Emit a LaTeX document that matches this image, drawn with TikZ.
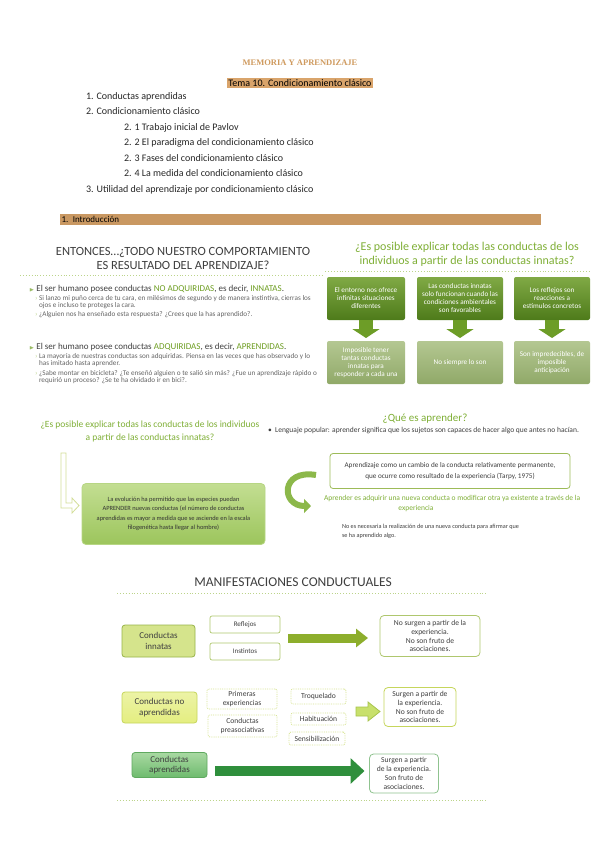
\documentclass[tikz,border=0pt]{standalone}
\usepackage{fontspec}
\usepackage{amssymb}
\setmainfont{Carlito}
\newfontfamily\memfont{Liberation Serif}
\usetikzlibrary{calc,arrows.meta,positioning}

\definecolor{tanTitle}{HTML}{CF9A5E}
\definecolor{tanFill}{HTML}{D9A46B}
\definecolor{tanBar}{HTML}{C99862}
\definecolor{slideGray}{HTML}{3F3F3F}
\definecolor{leafGreen}{HTML}{6E9E22}
\definecolor{titleGreen}{HTML}{7FAF36}
\definecolor{dotGreen}{HTML}{BCD48A}
\definecolor{boxDarkA}{HTML}{80A945}
\definecolor{boxDarkB}{HTML}{4E7B1A}
\definecolor{boxPaleA}{HTML}{B4C792}
\definecolor{boxPaleB}{HTML}{90A968}
\definecolor{arrowGreen}{HTML}{6D9D27}
\definecolor{evoA}{HTML}{C3DE92}
\definecolor{evoB}{HTML}{9CC55C}
\definecolor{evoLine}{HTML}{B7D684}
\definecolor{bentLine}{HTML}{D3DE98}
\definecolor{curveGreen}{HTML}{8CB84A}
\definecolor{defLine}{HTML}{9DBB58}
\definecolor{innFill}{HTML}{D5E48C}
\definecolor{innLine}{HTML}{98B44A}
\definecolor{smallLine}{HTML}{AFC76E}
\definecolor{rowOneArrow}{HTML}{8DAE2C}
\definecolor{napFill}{HTML}{E4EE80}
\definecolor{napLine}{HTML}{C6D65C}
\definecolor{dashLine}{HTML}{D6E38E}
\definecolor{hollowFill}{HTML}{C8E06C}
\definecolor{hollowLine}{HTML}{A7C44C}
\definecolor{aprA}{HTML}{A9D9A2}
\definecolor{aprB}{HTML}{6EBB6E}
\definecolor{aprLine}{HTML}{5FA95F}
\definecolor{rowThreeArrow}{HTML}{2F8F3C}

\tikzset{
  every node/.style={inner sep=0pt, outer sep=0pt},
  toc/.style={anchor=base west, font=\fontsize{10}{11}\selectfont, text=black!85},
  slidetitle/.style={anchor=base, font=\fontsize{12.5}{14}\selectfont, text=slideGray},
  greentitle/.style={anchor=base, align=center, font=\fontsize{12}{14}\selectfont, text=titleGreen},
  bulletline/.style={anchor=base west, font=\fontsize{9}{10}\selectfont, text=slideGray},
  subline/.style={anchor=north west, align=left, font=\fontsize{7.2}{7.8}\selectfont, text=slideGray!80},
  dotline/.style={dotGreen, dotted, line width=0.9pt},
  darkbox/.style={rounded corners=2pt, top color=boxDarkA, bottom color=boxDarkB, text=white,
    align=center, font=\fontsize{7.2}{8}\selectfont, minimum height=43pt},
  palebox/.style={rounded corners=2pt, top color=boxPaleA, bottom color=boxPaleB, text=white,
    align=center, font=\fontsize{7.2}{8}\selectfont, minimum height=43pt},
  downarrow/.style={arrowGreen, line width=14pt, -{Triangle[length=9pt,width=27pt]}, shorten >=3pt},
  evobox/.style={rounded corners=4pt, top color=evoA, bottom color=evoB, draw=evoLine, line width=0.8pt,
    align=center, font=\fontsize{6.4}{9.4}\selectfont, text=black!80},
  defbox/.style={draw=defLine, line width=0.8pt, rounded corners=3pt, fill=white, align=center,
    font=\fontsize{7.2}{11.5}\selectfont, text=slideGray},
  smalltext/.style={anchor=north west, align=left, font=\fontsize{6.2}{8.8}\selectfont, text=slideGray},
  mainbox/.style={rounded corners=3pt, line width=0.8pt, align=center, font=\fontsize{9}{10.5}\selectfont,
    text=slideGray},
  itembox/.style={rounded corners=2pt, draw=smallLine, line width=0.7pt, fill=white, align=center,
    font=\fontsize{7}{8}\selectfont, text=slideGray},
  dashbox/.style={rounded corners=2pt, draw=dashLine, densely dotted, line width=0.8pt, fill=white,
    align=center, font=\fontsize{7.6}{8.4}\selectfont, text=slideGray},
  resultbox/.style={rounded corners=4pt, line width=0.8pt, fill=white, align=center,
    font=\fontsize{7.6}{8.8}\selectfont, text=slideGray}
}

\begin{document}
\begin{tikzpicture}[x=1pt,y=-1pt]
  \useasboundingbox (0,0) rectangle (599,848);
  \fill[white] (0,0) rectangle (599,848);

  % cabecera
  \node[anchor=base, font=\memfont\bfseries\fontsize{8.5}{9}\selectfont, text=tanTitle] (mem) at (300,65.5) {MEMORIA Y APRENDIZAJE};
  \node[anchor=base, fill=tanFill, inner xsep=1.5pt, inner ysep=1.6pt, font=\fontsize{10}{11}\selectfont] (tema) at (300,86.5) {Tema 10. Condicionamiento clásico};

  \node[toc] (toc1) at (86,100) {1. Conductas aprendidas};
  \node[toc] (toc2) at (86,115) {2. Condicionamiento clásico};
  \node[toc] (toc21) at (124,131) {2. 1 Trabajo inicial de Pavlov};
  \node[toc] (toc22) at (124,146) {2. 2 El paradigma del condicionamiento clásico};
  \node[toc] (toc23) at (124,161) {2. 3 Fases del condicionamiento clásico};
  \node[toc] (toc24) at (124,176) {2. 4 La medida del condicionamiento clásico};
  \node[toc] (toc3) at (86,192) {3. Utilidad del aprendizaje por condicionamiento clásico};

  \node[anchor=north west, fill=tanBar, minimum width=481pt, minimum height=11pt, text width=478pt,
    inner xsep=1.5pt, align=left, font=\fontsize{9}{10}\selectfont] (intro) at (60,214) {1. Introducción};

  % diapositiva izquierda
  \node[slidetitle] (entA) at (183,255) {ENTONCES…¿TODO NUESTRO COMPORTAMIENTO};
  \node[slidetitle] (entB) at (183,269.5) {ES RESULTADO DEL APRENDIZAJE?};
  \draw[dotline] (20,275) -- (322,275);

  \node[bulletline] (nadq) at (29,291) {{\color{leafGreen!70}\fontsize{5}{5}\selectfont$\blacktriangleright$}\ El ser humano posee conductas
    \textcolor{leafGreen}{NO ADQUIRIDAS}, es decir, \textcolor{leafGreen}{INNATAS}.};
  \node[subline] (nadqA) at (35,295) {{\color{dotGreen}›}\ Si lanzo mi puño cerca de tu cara, en milésimos de segundo y de manera instintiva, cierras los\\
    \phantom{›}\ ojos e incluso te proteges la cara.};
  \node[subline] (nadqB) at (35,311) {{\color{dotGreen}›}\ ¿Alguien nos ha enseñado esta respuesta? ¿Crees que la has aprendido?.};

  \node[bulletline] (adq) at (29,349) {{\color{leafGreen!70}\fontsize{5}{5}\selectfont$\blacktriangleright$}\ El ser humano posee conductas
    \textcolor{leafGreen}{ADQUIRIDAS}, es decir, \textcolor{leafGreen}{APRENDIDAS}.};
  \node[subline] (adqA) at (35,353) {{\color{dotGreen}›}\ La mayoría de nuestras conductas son adquiridas. Piensa en las veces que has observado y lo\\
    \phantom{›}\ has imitado hasta aprender.};
  \node[subline] (adqB) at (35,370) {{\color{dotGreen}›}\ ¿Sabe montar en bicicleta? ¿Te enseñó alguien o te salió sin más? ¿Fue un aprendizaje rápido o\\
    \phantom{›}\ requirió un proceso? ¿Se te ha olvidado ir en bici?.};

  % diapositiva derecha
  \node[greentitle] (expl) at (467,250) {¿Es posible explicar todas las conductas de los};
  \node[greentitle] (explB) at (467,264.5) {individuos a partir de las conductas innatas?};
  \draw[dotline] (325,271) -- (590,271);

  \node[darkbox, minimum width=78pt] (top1) at (366,298.5) {El entorno nos ofrece\\ infinitas situaciones\\ diferentes};
  \node[darkbox, minimum width=86pt] (top2) at (460,298.5) {Las conductas innatas\\ solo funcionan cuando las\\ condiciones ambientales\\ son favorables};
  \node[darkbox, minimum width=76pt] (top3) at (552,298.5) {Los reflejos son\\ reacciones a\\ estímulos concretos};
  \node[palebox, minimum width=78pt] (bot1) at (366,362.5) {Imposible tener\\ tantas conductas\\ innatas para\\ responder a cada una};
  \node[palebox, minimum width=86pt] (bot2) at (460,362.5) {No siempre lo son};
  \node[palebox, minimum width=76pt] (bot3) at (552,362.5) {Son impredecibles, de\\ imposible\\ anticipación};
  \draw[downarrow] (top1.south) -- (bot1.north);
  \draw[downarrow] (top2.south) -- (bot2.north);
  \draw[downarrow] (top3.south) -- (bot3.north);

  % que es aprender
  \node[greentitle, font=\fontsize{9.5}{13}\selectfont] (posib) at (150,427) {¿Es posible explicar todas las conductas de los individuos};
  \node[greentitle, font=\fontsize{9.5}{13}\selectfont] (posibB) at (150,440.5) {a partir de las conductas innatas?};

  \node[evobox, minimum width=183pt, minimum height=61pt] (evo) at (173.5,514)
    {La evolución ha permitido que las especies puedan\\ APRENDER nuevas conductas (el número de conductas\\
     aprendidas es mayor a medida que se asciende en la escala\\ filogenética hasta llegar al hombre)};
  \draw[bentLine, fill=white, line width=0.8pt] (61,453) -- (66,453) -- (66,503) -- (72,503) -- (72,498)
    -- (79,505.5) -- (72,513) -- (72,508) -- (61,508) -- cycle;

  \draw[curveGreen, line width=6pt, -{Triangle[length=7pt,width=14pt]}]
    (316,475) .. controls (280,469) and (281,506) .. (311,506);

  \node[greentitle, font=\fontsize{11}{12}\selectfont] (que) at (425,421) {¿Qué es aprender?};
  \node[anchor=base west, font=\fontsize{7.5}{9}\selectfont, text=slideGray] (leng) at (268,432)
    {•\ \ Lenguaje popular: aprender significa que los sujetos son capaces de hacer algo que antes no hacían.};

  \node[defbox, minimum width=240pt, minimum height=35pt] (defi) at (450,471)
    {Aprendizaje como un cambio de la conducta relativamente permanente,\\ que ocurre como resultado de la experiencia (Tarpy, 1975)};
  \node[anchor=base west, font=\fontsize{7.5}{8}\selectfont, text=titleGreen] (adqui) at (324,500)
    {Aprender es adquirir una nueva conducta o modificar otra ya existente a través de la};
  \node[anchor=base, font=\fontsize{7.5}{8}\selectfont, text=titleGreen] (adquiB) at (416,510) {experiencia};
  \node[smalltext] (noes) at (342,524) {No es necesaria la realización de una nueva conducta para afirmar que\\ se ha aprendido algo.};

  % manifestaciones conductuales
  \node[slidetitle, font=\fontsize{13.5}{15}\selectfont] (manif) at (293,586) {MANIFESTACIONES CONDUCTUALES};
  \draw[dotline] (117,593) -- (487,593);

  \node[mainbox, fill=innFill, draw=innLine, minimum width=73pt, minimum height=32pt] (inn) at (158.5,641) {Conductas\\ innatas};
  \node[itembox, minimum width=70pt, minimum height=17pt] (refl) at (245,624.5) {Reflejos};
  \node[itembox, minimum width=70pt, minimum height=17pt] (inst) at (245,651.5) {Instintos};
  \node[resultbox, draw=smallLine, minimum width=100pt, minimum height=41pt] (nsA) at (430,636)
    {No surgen a partir de la\\ experiencia.\\ No son fruto de\\ asociaciones.};
  \coordinate (rowA) at (288,638);
  \draw[rowOneArrow, line width=9pt, -{Triangle[length=12pt,width=18pt]}, shorten >=12pt] (rowA) -- (rowA -| nsA.west);

  \node[mainbox, top color=napFill!70, bottom color=napFill, draw=napLine, minimum width=75pt, minimum height=31pt] (nap) at (159.5,707.5) {Conductas no\\ aprendidas};
  \node[dashbox, minimum width=70pt, minimum height=20pt] (prim) at (242,699) {Primeras\\ experiencias};
  \node[dashbox, minimum width=69pt, minimum height=22pt] (preas) at (242.5,726) {Conductas\\ preasociativas};
  \node[dashbox, minimum width=55pt, minimum height=15pt] (troq) at (318.5,696.5) {Troquelado};
  \node[dashbox, minimum width=55pt, minimum height=12pt] (habit) at (318.5,719) {Habituación};
  \node[dashbox, minimum width=56pt, minimum height=13pt] (sens) at (317,738.5) {Sensibilización};
  \node[resultbox, draw=napLine, minimum width=72pt, minimum height=39pt] (sfA) at (420,707)
    {Surgen a partir de\\ la experiencia.\\ No son fruto de\\ asociaciones.};
  \draw[hollowLine, fill=hollowFill, line width=0.8pt] (356,707) -- (368,707) -- (368,702) -- (380,711.5)
    -- (368,721) -- (368,716) -- (356,716) -- cycle;

  \node[mainbox, top color=aprA, bottom color=aprB, draw=aprLine, minimum width=75pt, minimum height=25pt] (apr) at (169.5,765) {Conductas\\ aprendidas};
  \node[resultbox, draw=aprLine!70, minimum width=69pt, minimum height=39pt] (sfB) at (404,773.5)
    {Surgen a partir\\ de la experiencia.\\ Son fruto de\\ asociaciones.};
  \coordinate (rowC) at (215,771);
  \draw[rowThreeArrow, line width=10pt, -{Triangle[length=14pt,width=25pt]}, shorten >=5pt] (rowC) -- (rowC -| sfB.west);
  \draw[dotline] (117,800) -- (487,800);
\end{tikzpicture}
\end{document}
